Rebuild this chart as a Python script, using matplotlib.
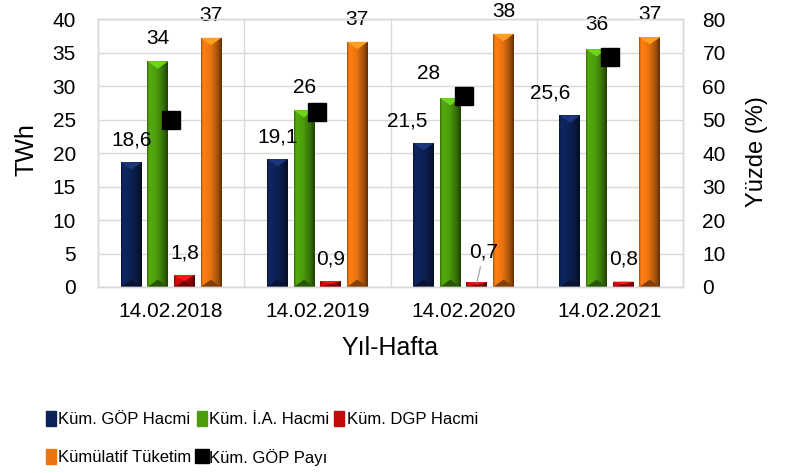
import matplotlib
matplotlib.use("Agg")
import matplotlib.pyplot as plt
import numpy as np
from matplotlib.patches import Patch, Polygon
from matplotlib.lines import Line2D
from matplotlib.colors import to_rgb

plt.rcParams['font.family'] = ['Liberation Sans', 'DejaVu Sans']

# Data
dates = ["14.02.2018", "14.02.2019", "14.02.2020", "14.02.2021"]
gop = [18.6, 19.1, 21.5, 25.6]          # Küm. GÖP Hacmi (TWh)
ia = [33.7, 26.4, 28.2, 35.5]           # Küm. İ.A. Hacmi (TWh)
dgp = [1.8, 0.9, 0.7, 0.8]              # Küm. DGP Hacmi (TWh)
tuketim = [37.2, 36.6, 37.8, 37.3]      # Kümülatif Tüketim (TWh)
gop_payi = [50.0, 52.3, 56.9, 68.6]     # Küm. GÖP Payı (%)

series_names = ["Küm. GÖP Hacmi", "Küm. İ.A. Hacmi", "Küm. DGP Hacmi", "Kümülatif Tüketim"]
colors = ["#0d2257", "#4c9c0c", "#c40a0a", "#ea7410"]
label_fmt = ["{:.1f}", "{:.0f}", "{:.1f}", "{:.0f}"]

# label nudges in points (series, group) -> (dx, dy)
nudges = {(0, 2): (-12, 0), (0, 3): (-14, 0), (1, 2): (-16, 2),
          (1, 3): (0, 2), (2, 2): (5, 6)}


def shade_bars(ax, bars, color):
    base = np.array(to_rgb(color))
    t = np.linspace(0, 1, 64)
    f = np.interp(t, [0, 0.1, 0.45, 0.8, 1.0], [0.7, 1.1, 1.0, 0.7, 0.4])
    grad = np.clip(base[None, :] * f[:, None], 0, 1)[None, :, :]
    for rect in bars:
        x0, w, h = rect.get_x(), rect.get_width(), rect.get_height()
        im = ax.imshow(grad, extent=[x0, x0 + w, 0, h], aspect='auto',
                       zorder=2.1, interpolation='bilinear')
        im.set_clip_path(rect)
        d = min(1.1, h / 2)
        light = np.clip(base * 1.3 + 0.04, 0, 1)
        top = Polygon([[x0, h], [x0 + w, h], [x0 + w / 2, h - d]],
                      closed=True, color=light, zorder=2.2, lw=0)
        ax.add_patch(top)
        bot = Polygon([[x0, 0], [x0 + w, 0], [x0 + w / 2, d]],
                      closed=True, color=base * 0.55, zorder=2.2, lw=0)
        ax.add_patch(bot)


fig = plt.figure(figsize=(7.92, 4.73), dpi=100)
ax = fig.add_axes([98 / 792, 1 - 287 / 473, 585 / 792, 268 / 473])
ax2 = ax.twinx()

x = np.arange(len(dates))
width = 0.143
pitch = 0.182
values = [gop, ia, dgp, tuketim]
for i, (vals, col) in enumerate(zip(values, colors)):
    pos = x + (i - 1.5) * pitch
    bars = ax.bar(pos, vals, width, color=col, zorder=2)
    shade_bars(ax, bars, col)
    for j, (p, v) in enumerate(zip(pos, vals)):
        dx, dy = nudges.get((i, j), (0, 0))
        txt = label_fmt[i].format(v).replace(".", ",")
        if (i, j) == (2, 2):
            ax.annotate(txt, xy=(p, v), xytext=(dx, 16 + dy), textcoords='offset points',
                        ha='center', va='center', fontsize=15, zorder=5,
                        arrowprops=dict(arrowstyle='-', color='#a6a6a6', lw=0.9,
                                        shrinkA=2, shrinkB=0))
        else:
            ax.annotate(txt, xy=(p, v), xytext=(dx, 16 + dy), textcoords='offset points',
                        ha='center', va='center', fontsize=15, zorder=5)

ax2.plot(x, gop_payi, linestyle='none', marker='s', markersize=13.5,
         color='black', zorder=4)

ax.set_xlim(-0.5, 3.5)
ax.set_ylim(0, 40)
ax.set_yticks(np.arange(0, 41, 5))
ax2.set_ylim(0, 80)
ax2.set_yticks(np.arange(0, 81, 10))
ax.set_xticks(x)
ax.set_xticklabels(dates)
ax.set_xticks(x[:-1] + 0.5, minor=True)

ax.grid(axis='y', color='#d9d9d9', lw=1.0, zorder=0)
ax.grid(axis='x', which='minor', color='#d9d9d9', lw=1.0, zorder=0)
ax.set_axisbelow(True)
for a in (ax, ax2):
    for s in a.spines.values():
        s.set_color('#d9d9d9')
        s.set_linewidth(1.0)

ax.tick_params(axis='y', length=0, pad=16, labelsize=15)
ax.tick_params(axis='x', which='both', length=0, pad=11, labelsize=15)
ax2.tick_params(axis='y', length=0, pad=14, labelsize=15)

fig.text(27 / 792, 1 - 150 / 473, "TWh", rotation=90, ha='center', va='center', fontsize=18)
fig.text(757 / 792, 1 - 152 / 473, "Yüzde (%)", rotation=90, ha='center', va='center', fontsize=17)
fig.text(390 / 792, 1 - 348 / 473, "Yıl-Hafta", ha='center', va='center', fontsize=18)

# Legend (order arranged so rows read left to right)
h = [Patch(color=c) for c in colors]
pay = Line2D([], [], linestyle='none', marker='s', markersize=10, color='black')
handles = [h[0], h[3], h[1], pay, h[2]]
labels = [series_names[0], series_names[3], series_names[1], "Küm. GÖP Payı", series_names[2]]
fig.legend(handles, labels, ncol=3, loc='upper left',
           bbox_to_anchor=(46 / 792, 1 - 411 / 473), frameon=False,
           prop=dict(size=12),
           handlelength=0.6, handleheight=1.0, handletextpad=0.15,
           columnspacing=0.3, labelspacing=1.3, borderaxespad=0, borderpad=0)

fig.savefig("out.png", dpi=100)
